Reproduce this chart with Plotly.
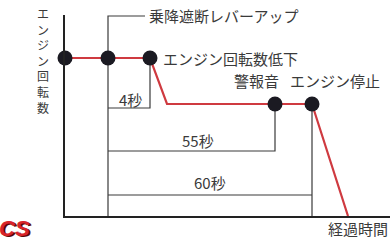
import plotly.graph_objects as go

# ---- data (schematic units: x = elapsed-time position, y = engine rpm level) ----
event_names = ["乗降遮断レバーアップ", "エンジン回転数低下", "警報音", "エンジン停止"]
event_x = [43, 85, 210, 247]          # schematic positions of the events
rpm_high = 158
rpm_low = 112
ramp_end_x = 102                       # end of rpm drop after "回転数低下"
stop_end_x = 283                       # rpm reaches zero
red_x = [0, event_x[0], event_x[1], ramp_end_x, event_x[2], event_x[3], stop_end_x]
red_y = [rpm_high, rpm_high, rpm_high, rpm_low, rpm_low, rpm_low, 0]
dot_x = [0, event_x[0], event_x[1], event_x[2], event_x[3]]
dot_y = [rpm_high, rpm_high, rpm_high, rpm_low, rpm_low]

durations = ["4秒", "55秒", "60秒"]    # measured from lever-up
duration_end = [event_x[1], event_x[2], event_x[3]]
duration_level = [108, 65, 21]
duration_label_x = [65, 133, 145]
duration_label_y = [117, 76, 34]

x_title = "経過時間"
y_title = "エンジン回転数"

X_MAX, Y_MAX = 325, 201
LINE = "#3a3a3a"
RED = "#cf3a40"
DOT = "#1b1a22"
TXT = "#3a3a3a"
FONT = "Noto Sans CJK JP"

fig = go.Figure()

# lever-up guide line (vertical + leader to label)
fig.add_trace(go.Scatter(x=[event_x[0], event_x[0], event_x[0] + 37], y=[0, 200, 200],
                         mode="lines", line=dict(color=LINE, width=1.2), hoverinfo="skip"))
# duration brackets
for i, (end, lvl) in enumerate(zip(duration_end, duration_level)):
    top = rpm_high if i == 0 else rpm_low
    bottom = 0 if i == 2 else lvl
    fig.add_trace(go.Scatter(x=[event_x[0], end, end, end], y=[lvl, lvl, bottom, top],
                             mode="lines", line=dict(color=LINE, width=1.2), hoverinfo="skip"))

# rpm curve
fig.add_trace(go.Scatter(x=red_x, y=red_y, mode="lines", cliponaxis=False,
                         line=dict(color=RED, width=2.2), hoverinfo="skip"))
fig.add_trace(go.Scatter(x=dot_x, y=dot_y, mode="markers", cliponaxis=False,
                         marker=dict(color=DOT, size=15), hoverinfo="skip"))

ann = []
f = dict(family=FONT, size=15, color=TXT)
ann.append(dict(x=event_x[0] + 40, y=200, text=event_names[0], xanchor="left", yanchor="middle"))
ann.append(dict(x=event_x[1] + 12, y=rpm_high, text=event_names[1], xanchor="left", yanchor="middle"))
ann.append(dict(x=event_x[2] - 19, y=136, text=event_names[2], xanchor="center", yanchor="middle"))
ann.append(dict(x=event_x[3] + 23, y=136, text=event_names[3], xanchor="center", yanchor="middle"))
for t, lx, ly in zip(durations, duration_label_x, duration_label_y):
    ann.append(dict(x=lx, y=ly, text=t, xanchor="center", yanchor="middle"))
ann.append(dict(x=324, y=-12, text=x_title, xanchor="right", yanchor="middle"))
for a in ann:
    a.update(font=f)
# vertical y-axis title (upright characters stacked)
ann.append(dict(x=-22, y=155, text="<br>".join(y_title), xanchor="center", yanchor="middle",
                font=dict(family=FONT, size=12, color=TXT)))
for a in ann:
    a.update(xref="paper", yref="paper", x=a["x"] / X_MAX, y=a["y"] / Y_MAX,
             showarrow=False, borderpad=0)

# logo fragment
ann.append(dict(x=-33 / X_MAX, y=-12 / Y_MAX, xref="paper", yref="paper",
                text="<b><i>CS</i></b>", showarrow=False, xanchor="right", yanchor="middle",
                font=dict(family="Liberation Sans", size=22, color="#d8232a",
                          shadow="2px 1px 0px #5a0a0a")))

fig.update_layout(
    width=392, height=240,
    margin=dict(l=65, r=2, t=15, b=24),
    paper_bgcolor="white", plot_bgcolor="white",
    showlegend=False,
    annotations=ann,
    xaxis=dict(range=[0, X_MAX], showgrid=False, zeroline=False, showticklabels=False,
               showline=True, linecolor="#222", linewidth=1.5, ticks=""),
    yaxis=dict(range=[0, Y_MAX], showgrid=False, zeroline=False, showticklabels=False,
               showline=True, linecolor="#222", linewidth=1.5, ticks=""),
)

fig.write_html("out.html", config={"displayModeBar": False},
               post_script="document.body.style.margin='0';")
